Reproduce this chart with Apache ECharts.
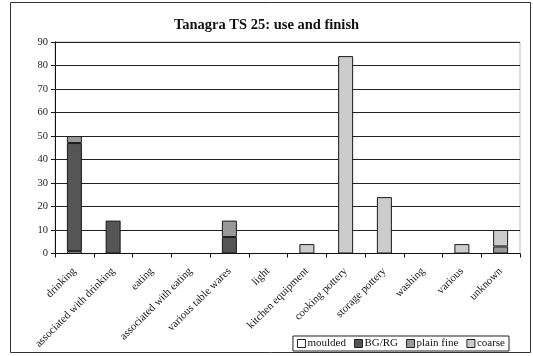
<!DOCTYPE html>
<html>
<head>
<meta charset="utf-8">
<script src="https://cdn.jsdelivr.net/npm/echarts@6/dist/echarts.min.js"></script>
<style>
  html, body { margin: 0; padding: 0; background: #fff; }
  #chart { width: 533px; height: 356px; }
</style>
</head>
<body>
<div id="chart"></div>
<script>
// Use categories of finds at Tanagra TS 25, split by ware finish
const categories = [
  'drinking', 'associated with drinking', 'eating', 'associated with eating',
  'various table wares', 'light', 'kitchen equipment', 'cooking pottery',
  'storage pottery', 'washing', 'various', 'unknown'
];
const moulded   = [1, 0, 0, 0, 0, 0, 0, 0, 0, 0, 0, 0];
const bgRg      = [46, 14, 0, 0, 7, 0, 0, 0, 0, 0, 0, 0];
const plainFine = [3, 0, 0, 0, 7, 0, 0, 0, 0, 0, 0, 3];
const coarse    = [0, 0, 0, 0, 0, 0, 4, 84, 24, 0, 4, 7];
const yTicks = [0, 10, 20, 30, 40, 50, 60, 70, 80, 90];

const serif = '"Liberation Serif", "DejaVu Serif", serif';
const blankZeros = arr => arr.map(v => (v === 0 ? '-' : v));

function makeSeries(name, data, color) {
  return {
    name: name,
    type: 'bar',
    stack: 'finish',
    barWidth: 15,
    data: blankZeros(data),
    itemStyle: { color: color, borderColor: '#1a1a1a', borderWidth: 1 },
    emphasis: { disabled: true }
  };
}

const chart = echarts.init(document.getElementById('chart'), null, { renderer: 'canvas' });
chart.setOption({
  animation: false,
  backgroundColor: '#fff',
  title: {
    text: 'Tanagra TS 25: use and finish',
    left: 'center',
    top: 13,
    textStyle: { fontFamily: serif, fontSize: 14.5, fontWeight: 'bold', color: '#111' }
  },
  grid: { left: 55, right: 13, top: 42, bottom: 102.5, show: true, borderColor: '#bbb', borderWidth: 1 },
  legend: {
    right: 24,
    bottom: 5,
    orient: 'horizontal',
    itemWidth: 8,
    itemHeight: 8,
    itemGap: 8,
    padding: [2, 4, 2, 4],
    borderColor: '#222',
    borderWidth: 1,
    icon: 'rect',
    itemStyle: { borderColor: '#222', borderWidth: 1 },
    textStyle: { fontFamily: serif, fontSize: 11, color: '#111', padding: [0, 0, 0, -3] },
    data: ['moulded', 'BG/RG', 'plain fine', 'coarse']
  },
  xAxis: {
    type: 'category',
    data: categories,
    boundaryGap: true,
    axisLine: { lineStyle: { color: '#111', width: 1 } },
    axisTick: { show: true, inside: false, length: 4, lineStyle: { color: '#111' } },
    axisLabel: {
      rotate: 45,
      interval: 0,
      margin: 16,
      fontFamily: serif,
      fontSize: 11,
      color: '#222'
    }
  },
  yAxis: {
    type: 'value',
    min: yTicks[0],
    max: yTicks[yTicks.length - 1],
    interval: yTicks[1] - yTicks[0],
    axisLine: { show: true, lineStyle: { color: '#111', width: 1 } },
    axisTick: { show: true, length: 4, lineStyle: { color: '#111' } },
    axisLabel: { fontFamily: serif, fontSize: 10.5, color: '#222', margin: 7 },
    splitLine: { show: true, lineStyle: { color: '#222', width: 1 } }
  },
  graphic: [{
    type: 'rect',
    shape: { x: 10.5, y: 2.5, width: 520, height: 350 },
    style: { fill: 'none', stroke: '#333', lineWidth: 1 },
    silent: true,
    z: -1
  }],
  series: [
    makeSeries('moulded', moulded, '#ffffff'),
    makeSeries('BG/RG', bgRg, '#555555'),
    makeSeries('plain fine', plainFine, '#999999'),
    makeSeries('coarse', coarse, '#cccccc')
  ]
});
</script>
</body>
</html>
